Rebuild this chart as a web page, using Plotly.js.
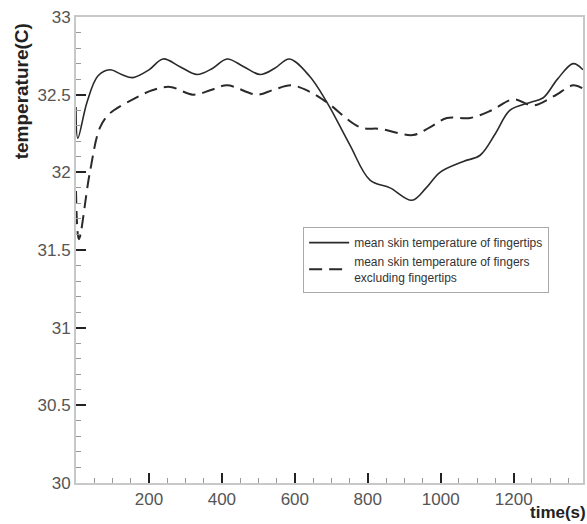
<!DOCTYPE html>
<html>
<head>
<meta charset="utf-8">
<script src="https://cdn.plot.ly/plotly-3.0.1.min.js"></script>
<style>html,body{margin:0;padding:0;background:#fff;}#chart{width:587px;height:524px;}</style>
</head>
<body>
<div id="chart"></div>
<script>
// time (s) and mean skin temperature (C) of fingertips
var tipTime = [0, 5, 30, 60, 93, 125, 156, 200, 239, 285, 332, 375, 414, 460, 505, 545, 585, 640, 688, 750, 806, 861, 921, 960, 998, 1062, 1108, 1150, 1190, 1245, 1281, 1320, 1363, 1390];
var tipTemp = [32.42, 32.22, 32.45, 32.62, 32.66, 32.63, 32.61, 32.66, 32.73, 32.68, 32.63, 32.67, 32.73, 32.68, 32.63, 32.67, 32.73, 32.62, 32.45, 32.18, 31.95, 31.90, 31.82, 31.90, 32.00, 32.07, 32.11, 32.25, 32.40, 32.45, 32.48, 32.60, 32.70, 32.66];
// time (s) and mean skin temperature (C) of fingers excluding fingertips
var fingTime = [0, 8, 38, 66, 93, 156, 211, 258, 321, 370, 414, 496, 540, 590, 640, 688, 779, 834, 924, 970, 1017, 1081, 1140, 1199, 1253, 1310, 1363, 1390];
var fingTemp = [31.88, 31.57, 32.00, 32.29, 32.38, 32.47, 32.53, 32.55, 32.50, 32.53, 32.56, 32.50, 32.53, 32.56, 32.52, 32.45, 32.29, 32.28, 32.24, 32.29, 32.35, 32.35, 32.40, 32.47, 32.43, 32.49, 32.56, 32.54];
var xTicks = [200, 400, 600, 800, 1000, 1200];
var yTicks = [30, 30.5, 31, 31.5, 32, 32.5, 33];
var yTickText = ['30', '30.5', '31', '31.5', '32', '32.5', '33'];
var seriesNames = ['mean skin temperature of fingertips', 'mean skin temperature of fingers<br>excluding fingertips'];

var traces = [
  {x: tipTime, y: tipTemp, name: seriesNames[0], mode: 'lines',
   line: {color: '#2a2a2a', width: 1.6, shape: 'spline', smoothing: 1}},
  {x: fingTime, y: fingTemp, name: seriesNames[1], mode: 'lines',
   line: {color: '#2a2a2a', width: 2, dash: '13px,7px', shape: 'spline', smoothing: 1}}
];

var axisCommon = {
  showgrid: false, zeroline: false, showline: true, mirror: true,
  linecolor: '#c8c8c8', linewidth: 2,
  ticks: 'inside', ticklen: 10, tickwidth: 2, tickcolor: '#222',
  tickfont: {family: 'Arial, Liberation Sans, sans-serif', size: 17, color: '#555'}
};

var layout = {
  width: 587, height: 524,
  margin: {l: 76, r: 4, t: 17, b: 41},
  paper_bgcolor: '#fff', plot_bgcolor: '#fff',
  showlegend: true,
  legend: {
    x: 0.448, y: 0.549, xanchor: 'left', yanchor: 'top',
    bordercolor: '#aaa', borderwidth: 1, bgcolor: '#fff',
    font: {family: 'Arial, Liberation Sans, sans-serif', size: 12, color: '#333'},
    itemwidth: 40, tracegroupgap: 6
  },
  xaxis: Object.assign({}, axisCommon, {
    range: [0, 1390], tickvals: xTicks, ticktext: xTicks.map(String),
    minor: {dtick: 50, tick0: 0, ticks: 'inside', ticklen: 5, tickwidth: 1, tickcolor: '#999', showgrid: false}
  }),
  yaxis: Object.assign({}, axisCommon, {
    range: [30, 33], tickvals: yTicks, ticktext: yTickText,
    minor: {dtick: 0.1, tick0: 30, ticks: 'inside', ticklen: 5, tickwidth: 1, tickcolor: '#999', showgrid: false}
  }),
  annotations: [
    {text: '<b>temperature(C)</b>', textangle: -90, xref: 'paper', yref: 'paper',
     x: -0.107, y: 0.84, xanchor: 'center', yanchor: 'middle', showarrow: false,
     font: {family: 'Arial, Liberation Sans, sans-serif', size: 19, color: '#222'}},
    {text: '<b>time(s)</b>', xref: 'paper', yref: 'paper',
     x: 0.891, y: -0.089, xanchor: 'left', yanchor: 'bottom', showarrow: false,
     font: {family: 'Arial, Liberation Sans, sans-serif', size: 17, color: '#222'}}
  ]
};

Plotly.newPlot('chart', traces, layout, {displayModeBar: false, staticPlot: true});
</script>
</body>
</html>
